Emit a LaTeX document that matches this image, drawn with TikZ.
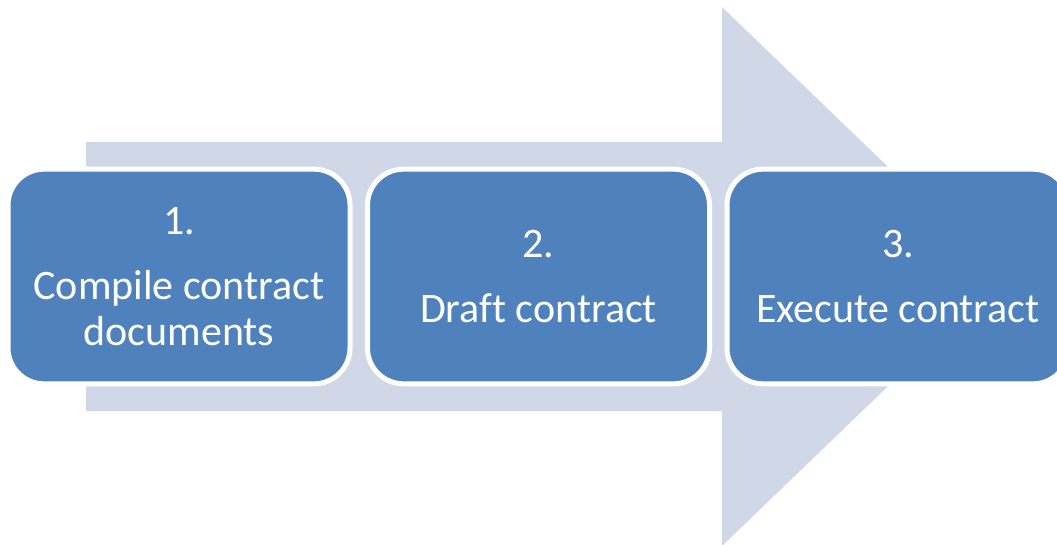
\documentclass[tikz,border=0pt]{standalone}
\usepackage{fontspec}
\setmainfont[Ligatures=NoCommon]{Carlito}
\definecolor{boxblue}{HTML}{4F81BD}
\definecolor{arrowgrey}{HTML}{D0D8E8}

\begin{document}
\begin{tikzpicture}[x=0.75pt,y=-0.75pt,
    stepbox/.style={rectangle,rounded corners=27pt,fill=boxblue,draw=white,line width=3.75pt,
        minimum width=256.5pt,minimum height=161pt,text=white,align=center,
        font=\fontsize{31.5}{34.5}\selectfont}]
\useasboundingbox (0,0) rectangle (1057,544);
\clip (0,0) rectangle (1057,544);
\fill[arrowgrey] (86,142) -- (722,142) -- (722,7) -- (1002,276.5) -- (722,546)
    -- (722,411) -- (86,411) -- cycle;
\node[stepbox] (compile) at (179,276.5) {1.\\[14pt]Compile contract\\documents};
\node[stepbox] (draft) at (538.5,276.5) {2.\\[14pt]Draft contract};
\node[stepbox] (execute) at (898,276.5) {3.\\[14pt]Execute contract};
\end{tikzpicture}
\end{document}
